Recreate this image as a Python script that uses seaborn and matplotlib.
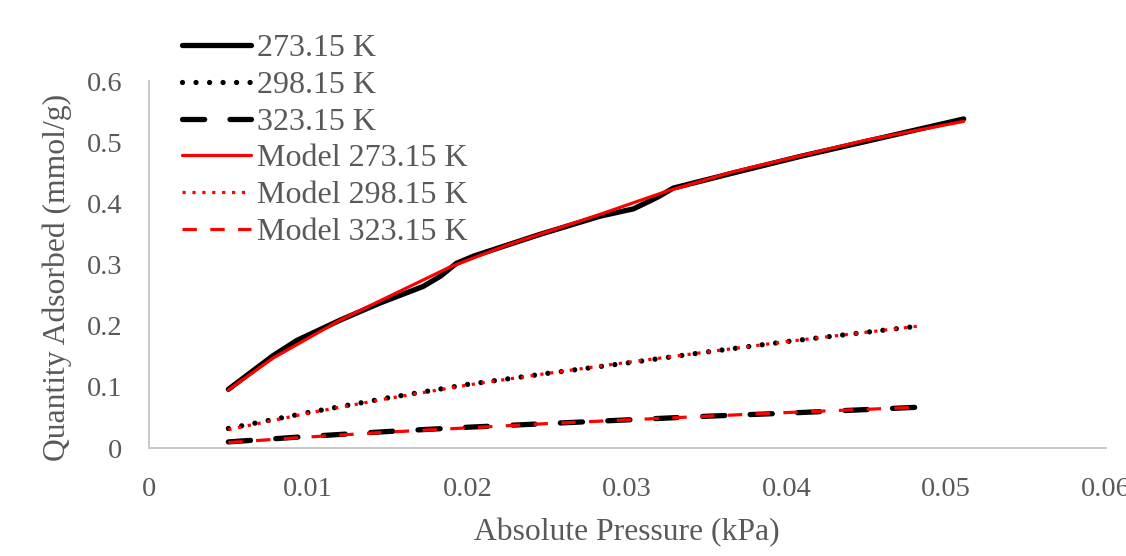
import matplotlib
matplotlib.use("Agg")
import matplotlib.pyplot as plt
import seaborn as sns
import pandas as pd

# Experimental isotherms (kPa, mmol/g)
p_273 = [0.005, 0.0078, 0.0093, 0.012, 0.0145, 0.0172, 0.0183, 0.0193, 0.0204,
         0.0245, 0.0283, 0.0304, 0.0319, 0.0329, 0.0367, 0.0409, 0.0451, 0.0511]
q_273 = [0.096, 0.151, 0.176, 0.209, 0.237, 0.264, 0.281, 0.302, 0.314,
         0.349, 0.379, 0.391, 0.410, 0.425, 0.450, 0.477, 0.502, 0.538]

p_298 = [0.005, 0.01, 0.015, 0.02, 0.025, 0.03, 0.035, 0.04, 0.0485]
q_298 = [0.032, 0.058, 0.082, 0.104, 0.122, 0.139, 0.157, 0.174, 0.200]

p_323 = [0.005, 0.01, 0.015, 0.02, 0.025, 0.03, 0.035, 0.04, 0.0485]
q_323 = [0.010, 0.019, 0.027, 0.034, 0.040, 0.046, 0.052, 0.057, 0.067]

# Model fits
pm_273 = [0.005, 0.0078, 0.012, 0.0162, 0.0189, 0.0225, 0.0283, 0.0325,
          0.0367, 0.0409, 0.0451, 0.0511]
qm_273 = [0.095, 0.147, 0.209, 0.262, 0.296, 0.332, 0.382, 0.420,
          0.452, 0.478, 0.504, 0.534]

pm_298 = [0.005, 0.01, 0.015, 0.02, 0.025, 0.03, 0.035, 0.04, 0.0485]
qm_298 = [0.030, 0.057, 0.081, 0.103, 0.122, 0.140, 0.157, 0.174, 0.200]

pm_323 = [0.005, 0.01, 0.015, 0.02, 0.025, 0.03, 0.035, 0.04, 0.0485]
qm_323 = [0.009, 0.018, 0.026, 0.033, 0.040, 0.046, 0.052, 0.058, 0.067]

x_ticks = [0, 0.01, 0.02, 0.03, 0.04, 0.05, 0.06]
x_tick_labels = ["0", "0.01", "0.02", "0.03", "0.04", "0.05", "0.06"]
y_ticks = [0, 0.1, 0.2, 0.3, 0.4, 0.5, 0.6]
y_tick_labels = ["0", "0.1", "0.2", "0.3", "0.4", "0.5", "0.6"]

sns.set_theme(style="white")
plt.rcParams["font.family"] = ["Liberation Serif", "DejaVu Serif"]
text_color = "#595959"
axis_color = "#c8c8c8"

fig = plt.figure(figsize=(11.26, 5.56), dpi=100)
ax = fig.add_axes([0.1320, 0.1942, 0.8499, 0.6601])

series = [
    ("273.15 K", p_273, q_273, dict(color="black", lw=3.8, linestyle="-",
                                      solid_capstyle="round")),
    ("298.15 K", p_298, q_298, dict(color="black", lw=3.8, linestyle=(0, (0.01, 2.55)),
                                      dash_capstyle="round")),
    ("323.15 K", p_323, q_323, dict(color="black", lw=3.8, linestyle=(0, (4.2, 4.8)),
                                      dash_capstyle="round")),
    ("Model 273.15 K", pm_273, qm_273, dict(color="#ff0000", lw=2.3, linestyle="-",
                                              solid_capstyle="round")),
    ("Model 298.15 K", pm_298, qm_298, dict(color="#ff0000", lw=2.3, linestyle=(0, (1.0, 2.1)),
                                              dash_capstyle="butt")),
    ("Model 323.15 K", pm_323, qm_323, dict(color="#ff0000", lw=2.3, linestyle=(0, (4.5, 4.2)),
                                              dash_capstyle="butt")),
]

for label, xs, ys, style in series:
    df = pd.DataFrame({"p": xs, "q": ys})
    sns.lineplot(data=df, x="p", y="q", ax=ax, label=label, errorbar=None,
                 sort=False, **style)

ax.set_xlim(0, 0.06)
ax.set_ylim(0, 0.6)
ax.set_xticks(x_ticks)
ax.set_xticklabels(x_tick_labels)
ax.set_yticks(y_ticks)
ax.set_yticklabels(y_tick_labels)
ax.tick_params(axis="both", length=0, labelsize=20.5, labelcolor=text_color)
ax.tick_params(axis="x", pad=21)
ax.tick_params(axis="y", pad=19)

for side in ["top", "right"]:
    ax.spines[side].set_visible(False)
for side in ["left", "bottom"]:
    ax.spines[side].set_color(axis_color)
    ax.spines[side].set_linewidth(1.4)
ax.grid(False)

ax.set_xlabel("Absolute Pressure (kPa)", fontsize=22.8, color=text_color)
ax.set_ylabel("Quantity Adsorbed (mmol/g)", fontsize=22.8, color=text_color)
ax.xaxis.set_label_coords(0.5, -0.19)
ax.yaxis.set_label_coords(-0.08, 0.465)

leg = ax.legend(loc="upper left", bbox_to_anchor=(182 / 1126, 1 - 34 / 556),
                bbox_transform=fig.transFigure, frameon=False, fontsize=23,
                borderpad=0, borderaxespad=0, handlelength=2.15,
                handletextpad=0.2, labelspacing=0.23)
for t in leg.get_texts():
    t.set_color(text_color)

fig.savefig("out.png", dpi=100)
